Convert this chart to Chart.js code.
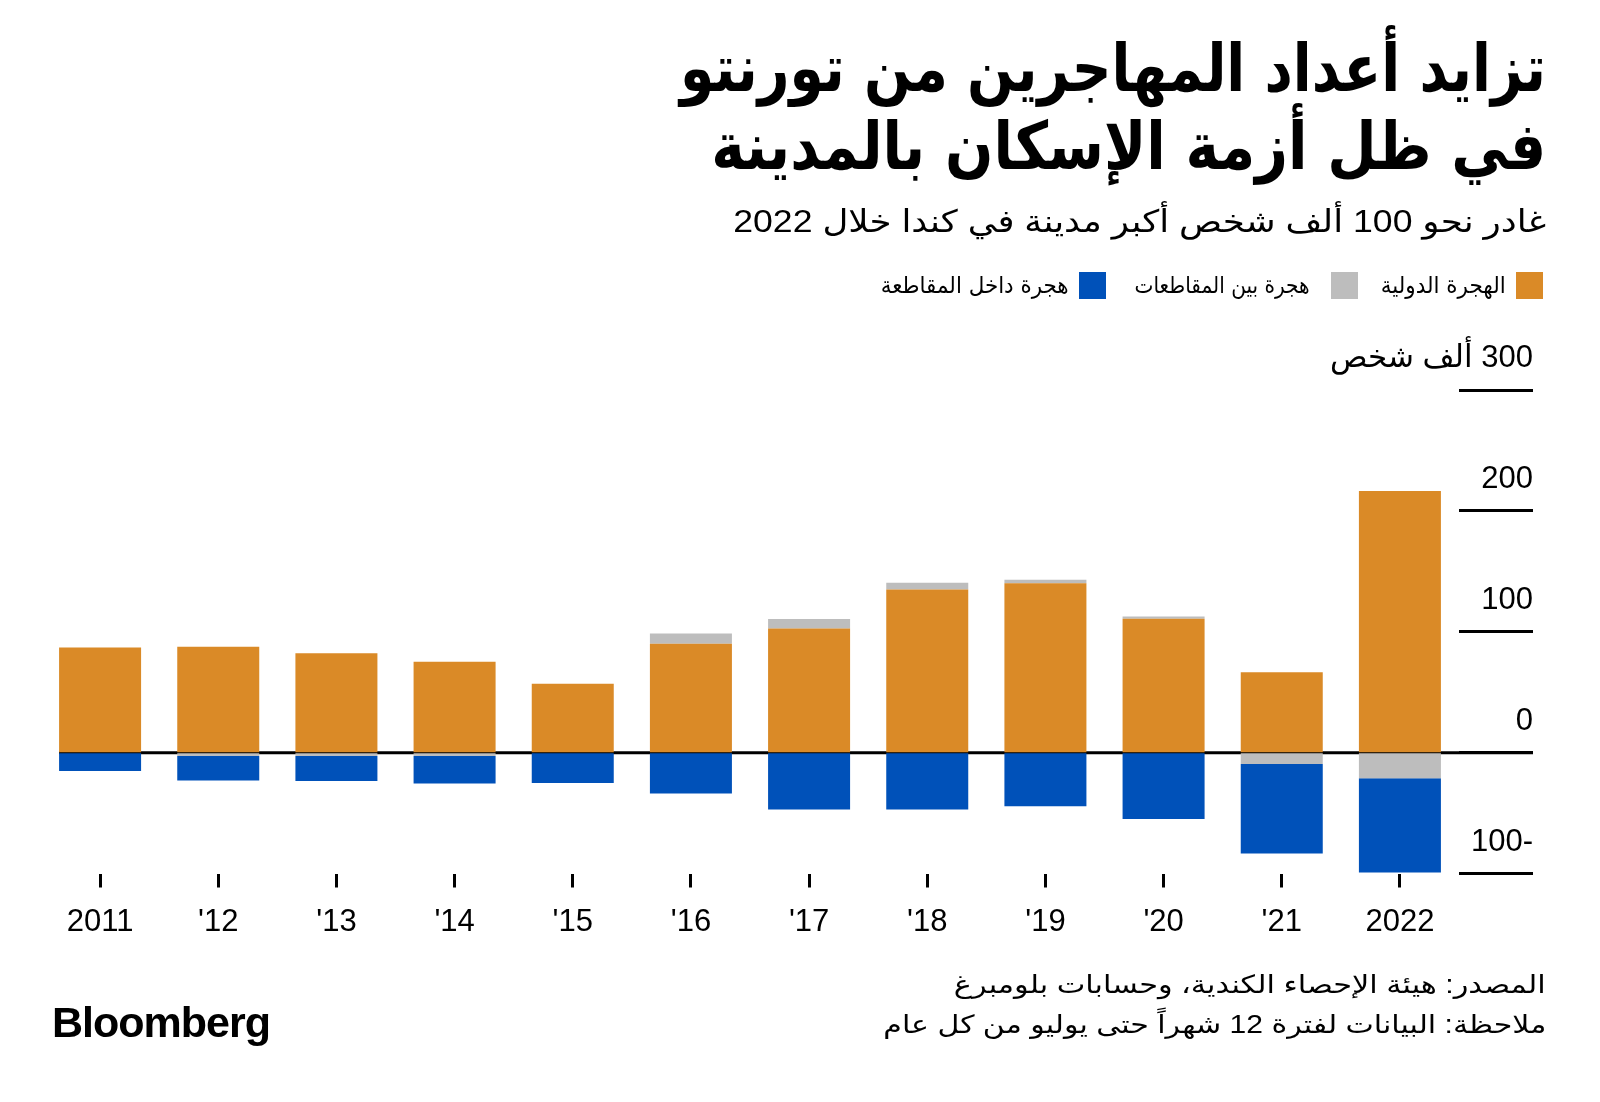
<!DOCTYPE html>
<html><head><meta charset="utf-8">
<script src="https://cdn.jsdelivr.net/npm/chart.js@4"></script>
<style>
html,body{margin:0;padding:0;background:#fff;width:1600px;height:1102px;overflow:hidden;}
#wrap{position:absolute;left:0;top:0;width:1600px;height:1102px;}
.t{position:absolute;white-space:nowrap;line-height:1;color:#000;}
.sq{position:absolute;width:27px;height:27px;}
</style></head><body>
<div id="wrap"><canvas id="c" width="1600" height="1102"></canvas></div>
<script>
// ---- data ----
const years = ['2011', "'12", "'13", "'14", "'15", "'16", "'17", "'18", "'19", "'20", "'21", '2022'];
const international = [87.0, 87.6, 82.3, 75.2, 57.0, 90.1, 102.7, 135.0, 140.2, 110.7, 66.4, 216.5];
const interprovincial = [0, -2.8, -2.8, -2.8, 0, 8.5, 7.9, 5.5, 2.8, 1.9, -9.4, -21.2];
const intraprovincial = [-15.2, -20.3, -20.6, -22.8, -25.1, -33.9, -47.1, -47.1, -44.4, -54.9, -74.1, -77.9];
const seriesNames = ['الهجرة الدولية', 'هجرة بين المقاطعات', 'هجرة داخل المقاطعة'];
const yTickValues = [-100, 0, 100, 200, 300];
const yTickLabels = ['-100', '0', '100', '200', '300 ألف شخص'];

const colors = ['#DA8A27', '#BDBDBD', '#0051B9'];
const AR = '"DejaVu Sans", sans-serif';
const MIX = '"Liberation Sans", "DejaVu Sans", sans-serif';

// ---- texts ----
const texts = [
  {s:'تزايد أعداد المهاجرين من تورنتو', right:1546, base:92, fs:66, fam:AR, w:'bold', width:866},
  {s:'في ظل أزمة الإسكان بالمدينة', right:1546, base:170, fs:66, fam:AR, w:'bold', width:835},
  {s:'غادر نحو 100 ألف شخص أكبر مدينة في كندا خلال 2022', right:1546, base:232, fs:31, fam:MIX, w:'normal', width:813},
  {s:seriesNames[0], right:1506, base:293, fs:23, fam:AR, w:'normal', width:125},
  {s:seriesNames[1], right:1310, base:293, fs:23, fam:AR, w:'normal', width:175},
  {s:seriesNames[2], right:1069, base:293, fs:23, fam:AR, w:'normal', width:188},
  {s:'المصدر: هيئة الإحصاء الكندية، وحسابات بلومبرغ', right:1546, base:993, fs:25, fam:MIX, w:'normal', width:592},
  {s:'ملاحظة: البيانات لفترة 12 شهراً حتى يوليو من كل عام', right:1546, base:1033, fs:25, fam:MIX, w:'normal', width:663},
];
const wrap = document.getElementById('wrap');
texts.forEach(t => {
  const d = document.createElement('div');
  d.className = 't';
  d.dir = 'rtl';
  d.textContent = t.s;
  d.style.fontFamily = t.fam;
  d.style.fontWeight = t.w;
  d.style.fontSize = t.fs + 'px';
  d.style.right = (1600 - t.right) + 'px';
  d.style.top = (t.base - 0.846 * t.fs) + 'px';
  d.style.transformOrigin = 'right center';
  wrap.appendChild(d);
  const mw = d.getBoundingClientRect().width;
  d.style.transform = 'scaleX(' + (t.width / mw) + ')';
});
// legend squares
[[1516, 0], [1331, 1], [1079, 2]].forEach(([x, i]) => {
  const s = document.createElement('div');
  s.className = 'sq';
  s.style.left = x + 'px'; s.style.top = '272px'; s.style.background = colors[i];
  wrap.appendChild(s);
});
// logo
const logo = document.createElement('div');
logo.className = 't';
logo.textContent = 'Bloomberg';
logo.style.fontFamily = '"Liberation Sans", Arial, sans-serif';
logo.style.fontWeight = 'bold';
logo.style.fontSize = '43px';
logo.style.letterSpacing = '-1px';
logo.style.left = '52px';
logo.style.top = (1037 - 0.846 * 43) + 'px';
wrap.appendChild(logo);

// ---- chart ----
const deco = {
  id: 'deco',
  beforeDatasetsDraw(chart) {
    const ctx = chart.ctx, y = chart.scales.y;
    const b = chart.getDatasetMeta(0).data[0];
    const left = b.x - b.width / 2;
    const py = y.getPixelForValue(0);
    ctx.save();
    ctx.strokeStyle = '#000'; ctx.lineWidth = 3;
    ctx.beginPath(); ctx.moveTo(left, py); ctx.lineTo(y.right, py); ctx.stroke();
    ctx.restore();
  },
  afterDraw(chart) {
    const ctx = chart.ctx, y = chart.scales.y;
    ctx.save();
    ctx.fillStyle = '#000';
    ctx.font = '31px ' + MIX;
    ctx.direction = 'rtl';
    ctx.textAlign = 'right';
    ctx.textBaseline = 'alphabetic';
    yTickValues.forEach((v, i) => {
      ctx.fillText(yTickLabels[i], y.right, y.getPixelForValue(v) - 23);
    });
    ctx.restore();
  }
};

new Chart(document.getElementById('c'), {
  type: 'bar',
  data: {
    labels: years,
    datasets: [
      {label: seriesNames[0], data: international, backgroundColor: colors[0]},
      {label: seriesNames[1], data: interprovincial, backgroundColor: colors[1]},
      {label: seriesNames[2], data: intraprovincial, backgroundColor: colors[2]},
    ]
  },
  options: {
    responsive: false,
    animation: false,
    devicePixelRatio: 1,
    layout: {padding: {left: 41, right: 67, top: 390, bottom: 158.5}},
    plugins: {legend: {display: false}, tooltip: {enabled: false}},
    datasets: {bar: {barPercentage: 1, categoryPercentage: 0.694, borderWidth: 0}},
    scales: {
      x: {
        stacked: true,
        afterFit(s) { s.height = 70; },
        border: {display: false},
        grid: {display: true, drawOnChartArea: false, drawTicks: true, tickLength: 14, tickWidth: 3, tickColor: '#000', offset: false},
        ticks: {color: '#000', font: {family: '"Liberation Sans", Arial, sans-serif', size: 31}, padding: 16, maxRotation: 0, autoSkip: false}
      },
      y: {
        stacked: true,
        position: 'right',
        min: -100, max: 300,
        afterFit(s) { s.width = 74; },
        border: {display: false},
        grid: {display: true, drawOnChartArea: false, drawTicks: true, tickLength: 74, tickWidth: 3, tickColor: '#000'},
        ticks: {display: false, stepSize: 100}
      }
    }
  },
  plugins: [deco]
});
</script>
</body></html>
